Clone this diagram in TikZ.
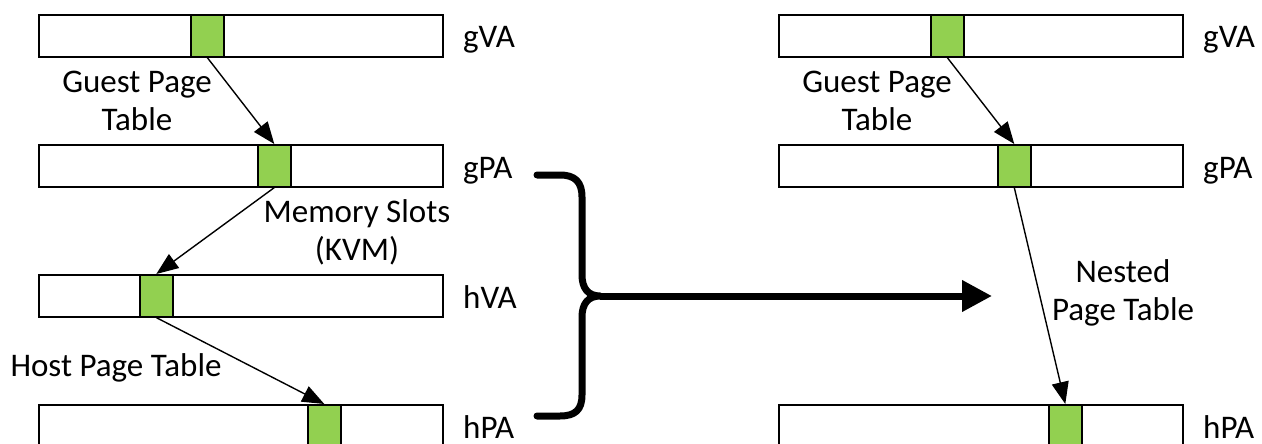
\documentclass[tikz,border=0pt]{standalone}
\usepackage{fontspec}
\setmainfont{Carlito}
\usetikzlibrary{arrows.meta}
\definecolor{slotgreen}{HTML}{92D050}
\begin{document}
\begin{tikzpicture}[x=1pt,y=-1pt,
  bar/.style={draw, line width=1.6pt, fill=white, minimum width=404pt,
    minimum height=42pt, inner sep=0pt, anchor=north west},
  slot/.style={draw, line width=1.6pt, fill=slotgreen, minimum width=33pt,
    minimum height=42pt, inner sep=0pt, anchor=north west},
  txt/.style={font=\fontsize{33}{38}\selectfont, inner sep=0pt},
  lbl/.style={txt, anchor=base west},
  note/.style={txt, align=center, anchor=base},
  map/.style={line width=1.4pt, -{Triangle[length=22pt,width=17pt]}},
  fat/.style={line width=7pt, line cap=round, line join=round},
]
\useasboundingbox (0,0) rectangle (1262,444);
\clip (0,0) rectangle (1262,444);

% left column: two-stage translation
\node[bar] (lgva) at (38,14) {};
\node[bar] (lgpa) at (38,144) {};
\node[bar] (lhva) at (38,274) {};
\node[bar] (lhpa) at (38,404) {};
\node[slot] (lsgva) at (190,14) {};
\node[slot] (lsgpa) at (257,144) {};
\node[slot] (lshva) at (139,274) {};
\node[slot] (lshpa) at (307,404) {};
\node[lbl] (tlgva) at (463,48) {gVA};
\node[lbl] (tlgpa) at (463,178) {gPA};
\node[lbl] (tlhva) at (463,308) {hVA};
\node[lbl] (tlhpa) at (463,438) {hPA};

\draw[map] (lsgva.south) -- (lsgpa.north);
\draw[map] (lsgpa.south) -- (lshva.north);
\draw[map] (lshva.south) -- (lshpa.north);

% multi-line labels are placed by the baseline of their last line
\node[note] (ngpt) at (137,130) {Guest Page\\Table};
\node[note] (nslot) at (357,260) {Memory Slots\\(KVM)};
\node[note] (nhpt) at (116,376) {Host Page Table};

% right column: nested paging
\node[bar] (rgva) at (778,14) {};
\node[bar] (rgpa) at (778,144) {};
\node[bar] (rhpa) at (778,404) {};
\node[slot] (rsgva) at (930,14) {};
\node[slot] (rsgpa) at (997,144) {};
\node[slot] (rshpa) at (1048,404) {};
\node[lbl] (trgva) at (1203,48) {gVA};
\node[lbl] (trgpa) at (1203,178) {gPA};
\node[lbl] (trhpa) at (1203,438) {hPA};

\draw[map] (rsgva.south) -- (rsgpa.north);
\draw[map] (rsgpa.south) -- (rshpa.north);

\node[note] (rngpt) at (877,130) {Guest Page\\Table};
\node[note] (rnnpt) at (1123,320) {Nested\\Page Table};

% brace merging the left stages into one arrow
\coordinate (btop) at (537,175);
\coordinate (bbot) at (537,416);
\coordinate (cusp) at (600,296);
\coordinate (aend) at (992,296);
\draw[fat] (btop) -- (560,175) .. controls (575,175) and (582,182) .. (582,197)
  -- (582,275) .. controls (582,288) and (588,296) .. (cusp)
  .. controls (588,296) and (582,304) .. (582,317)
  -- (582,395) .. controls (582,410) and (575,416) .. (560,416) -- (bbot);
\draw[line width=7pt, -{Triangle[length=30pt,width=30pt]}] (cusp) -- (aend);
\end{tikzpicture}
\end{document}
